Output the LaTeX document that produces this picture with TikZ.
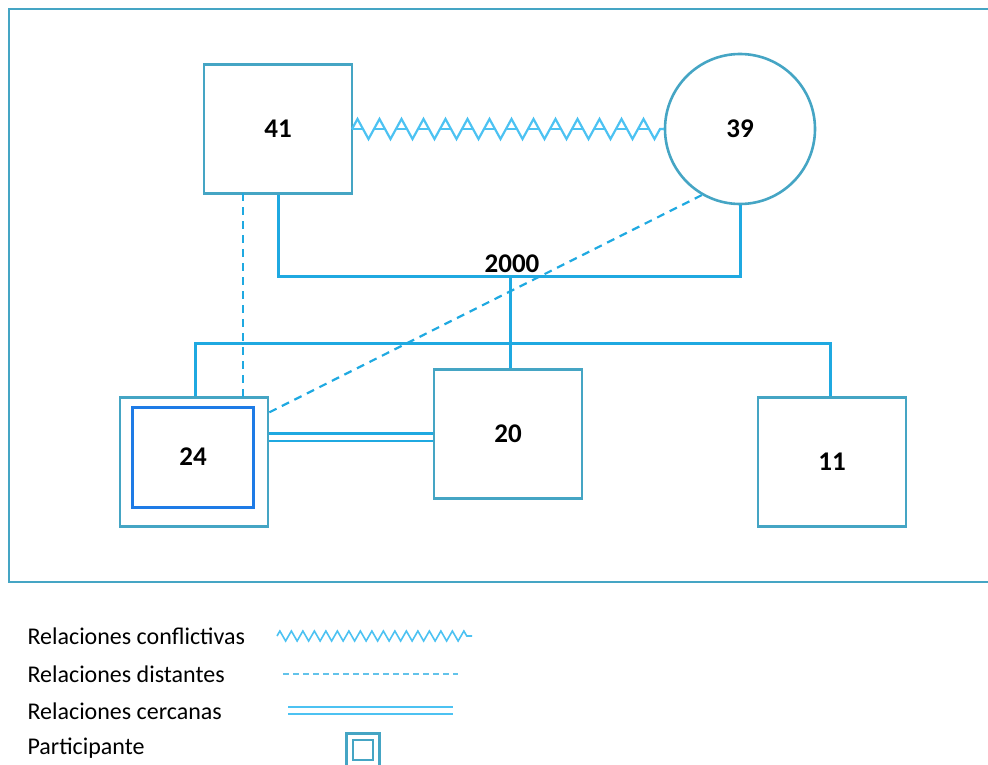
\documentclass[tikz,border=0pt]{standalone}
\usepackage{fontspec}
\setmainfont{Carlito}
\usetikzlibrary{decorations.pathmorphing}
\definecolor{frame}{HTML}{45A5C4}
\definecolor{conn}{HTML}{1FA9E1}
\definecolor{zig}{HTML}{4CC2F2}
\definecolor{inner}{HTML}{1E7BE6}
\tikzset{
  person/.style={draw=frame,line width=2.6pt,minimum width=148pt,minimum height=129pt,inner sep=0pt,font=\bfseries\fontsize{27}{30}\selectfont},
  female/.style={draw=frame,line width=2.6pt,circle,minimum size=150pt,inner sep=0pt,font=\bfseries\fontsize{27}{30}\selectfont},
  link/.style={draw=conn,line width=3pt},
  distant/.style={draw=conn,line width=2.2pt,dash pattern=on 8pt off 6pt},
  close/.style={draw=conn,line width=2.2pt,double distance=5pt},
  conflict/.style={draw=zig,line width=2.2pt,decorate,decoration={zigzag,segment length=22pt,amplitude=10pt}},
  legtext/.style={anchor=west,font=\fontsize{24}{26}\selectfont},
}
\begin{document}
\begin{tikzpicture}[x=1pt,y=-1pt]
\useasboundingbox (0,0) rectangle (988,765);
\draw[frame,line width=2.6pt] (1000,9) -- (9,9) -- (9,582) -- (1000,582);

\node[person] (p41) at (278,129) {41};
\node[female] (p39) at (740,129) {39};
\node[person] (p20) at (508,434) {20};
\node[person] (p11) at (832,462) {11};
\node[person] (p24) at (194,462) {};
\node[draw=inner,line width=3pt,minimum width=121pt,minimum height=100pt,inner sep=0pt,font=\bfseries\fontsize{27}{30}\selectfont] (p24i) at (193,457) {24};

% conflict
\coordinate (z1) at (352,129);
\coordinate (z2) at (664,129);
\draw[conflict] (z1) -- (z2);
\draw[zig,line width=2pt,dash pattern=on 10pt off 12pt] (z1) -- (z2);

% marriage
\node[font=\bfseries\fontsize{27}{30}\selectfont] (y2000) at (512,264) {2000};
\coordinate (m1) at (278,276);
\coordinate (m2) at (740,276);
\coordinate (mc) at (510,276);
\draw[link] (p41.south) -- (m1) -- (m2) -- (p39.south);
\draw[link] (mc) -- (mc |- p20.north);

% siblings
\coordinate (s1) at (195,343);
\coordinate (s2) at (830,343);
\draw[link] (s1 |- p24.north) -- (s1) -- (s2) -- (s2 |- p11.north);

% distant
\draw[distant] (243,193) -- (243,397);
\draw[distant] (p39.240) -- (268,413);

% close
\draw[close] (p24.east |- 0,437) -- (p20.west |- 0,437);

% legend
\node[legtext] (l1) at (24,636) {Relaciones conflictivas};
\node[legtext] (l2) at (24,674) {Relaciones distantes};
\node[legtext] (l3) at (24,711) {Relaciones cercanas};
\node[legtext] (l4) at (24,748) {Participante};
\coordinate (a1) at (277,636);
\coordinate (a2) at (472,636);
\draw[zig,line width=1.6pt,decorate,decoration={zigzag,segment length=11.5pt,amplitude=5pt}] (a1) -- (a2);
\coordinate (b1) at (283,674);
\coordinate (b2) at (458,674);
\draw[conn!70,line width=1.6pt,dash pattern=on 6pt off 4pt] (b1) -- (b2);
\coordinate (c1) at (288,710);
\coordinate (c2) at (453,710);
\draw[zig,line width=2pt,double distance=5pt] (c1) -- (c2);
\node[draw=frame,line width=2.4pt,minimum size=33pt,inner sep=0pt] (lp) at (363,750) {};
\node[draw=frame,line width=2.4pt,minimum size=20pt,inner sep=0pt] (lpi) at (363,750) {};
\end{tikzpicture}
\end{document}
